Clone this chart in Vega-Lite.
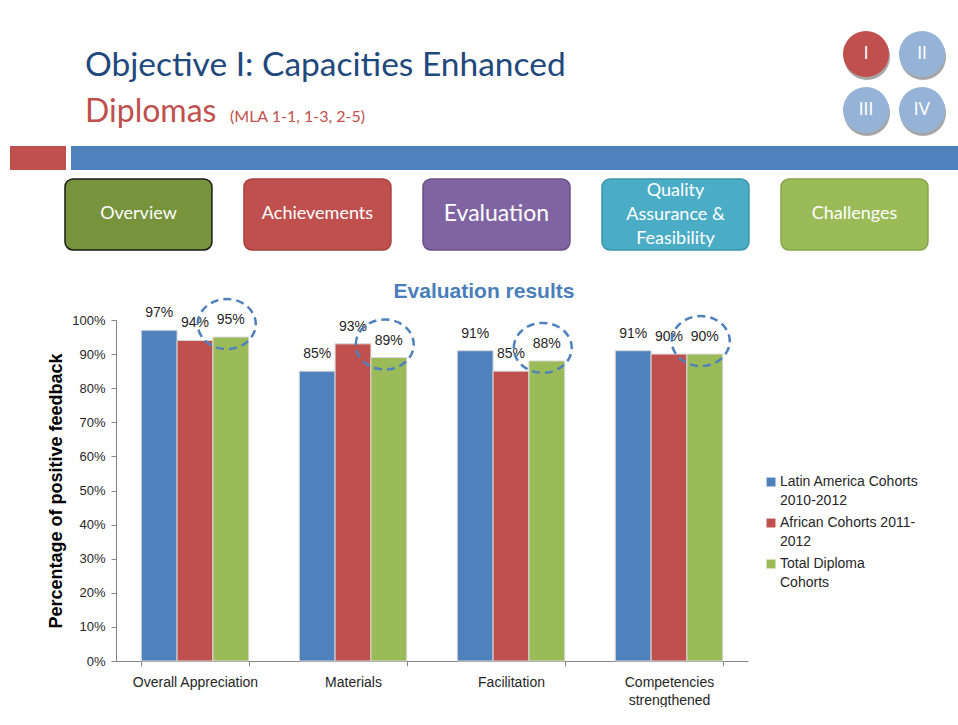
{
  "$schema": "https://vega.github.io/schema/vega-lite/v6.json",
  "background": "white",
  "padding": {"left": 10, "top": 26, "right": 0, "bottom": 0},
  "title": {"text": "Objective I: Capacities Enhanced", "anchor": "start", "dx": 75, "offset": -83, "baseline": "alphabetic", "fontSize": 33.5, "font": "Lato", "fontWeight": "normal", "color": "#1F497D"},
  "spacing": 8,
  "config": {"view": {"stroke": null}, "style": {"guide-label": {"lineHeight": 18.5}}},
  "resolve": {"scale": {"color": "independent", "stroke": "independent"}, "legend": {"color": "independent", "stroke": "independent"}},
  "vconcat": [
    {
      "spacing": 0,
      "hconcat": [
        {
          "width": 220, "height": 80,
          "data": {"values": []},
          "mark": "point",
          "encoding": {},
          "title": {"text": "Diplomas", "orient": "bottom", "anchor": "start", "dx": 75, "offset": 16, "baseline": "alphabetic", "fontSize": 32, "font": "Lato", "fontWeight": "normal", "color": "#C0504D"}
        },
        {
          "width": 608, "height": 80,
          "data": {"values": []},
          "mark": "point",
          "encoding": {},
          "title": {"text": "(MLA 1-1, 1-3, 2-5)", "orient": "bottom", "anchor": "start", "offset": 16, "baseline": "alphabetic", "fontSize": 16, "font": "Lato", "fontWeight": "normal", "color": "#C0504D"}
        },
        {
          "width": 112, "height": 112,
          "data": {"values": [
            {"label": "I", "col": "left", "row": "top"},
            {"label": "II", "col": "right", "row": "top"},
            {"label": "III", "col": "left", "row": "bottom"},
            {"label": "IV", "col": "right", "row": "bottom"}
          ]},
          "encoding": {
            "x": {"field": "col", "type": "nominal", "sort": ["left", "right"], "scale": {"type": "point", "padding": 0.5}, "axis": null},
            "y": {"field": "row", "type": "nominal", "sort": ["top", "bottom"], "scale": {"type": "point", "padding": 0.5}, "axis": null}
          },
          "layer": [
            {"mark": {"type": "point", "filled": true, "size": 2124, "color": "#808080", "opacity": 0.7, "xOffset": 1, "yOffset": 3}},
            {"mark": {"type": "point", "filled": true, "size": 2124, "opacity": 1},
             "encoding": {"color": {"field": "label", "type": "nominal", "scale": {"domain": ["I", "II", "III", "IV"], "range": ["#C0504D", "#95B3D7", "#95B3D7", "#95B3D7"]}, "legend": null}}},
            {"mark": {"type": "text", "color": "white", "fontSize": 17, "font": "Lato", "baseline": "middle"},
             "encoding": {"text": {"field": "label"}}}
          ]
        }
      ]
    },
    {
      "spacing": 5,
      "hconcat": [
        {"width": 56, "height": 24, "view": {"fill": "#C0504D", "stroke": null}, "data": {"values": []}, "mark": "point", "encoding": {}},
        {"width": 887, "height": 24, "view": {"fill": "#4F81BD", "stroke": null}, "data": {"values": []}, "mark": "point", "encoding": {}}
      ]
    },
    {
      "width": 938, "height": 94,
      "data": {"values": [
        {"label": "Overview"},
        {"label": "Achievements"},
        {"label": "Evaluation"},
        {"label": "Quality\nAssurance &\nFeasibility"},
        {"label": "Challenges"}
      ]},
      "encoding": {
        "x": {"field": "label", "type": "nominal", "sort": null, "scale": {"paddingInner": 0.179, "paddingOuter": 0.2095, "align": 0.733}, "axis": null},
        "y": {"datum": "buttons", "type": "nominal", "scale": {"paddingInner": 0, "paddingOuter": 0.162, "align": 0}, "axis": null}
      },
      "layer": [
        {"mark": {"type": "bar", "cornerRadius": 8, "strokeWidth": 1.5},
         "encoding": {
           "color": {"field": "label", "type": "nominal", "scale": {"domain": ["Overview", "Achievements", "Evaluation", "Quality\nAssurance &\nFeasibility", "Challenges"], "range": ["#77933C", "#C0504D", "#8064A2", "#4BACC6", "#9BBB59"]}, "legend": null},
           "stroke": {"field": "label", "type": "nominal", "scale": {"domain": ["Overview", "Achievements", "Evaluation", "Quality\nAssurance &\nFeasibility", "Challenges"], "range": ["#1a1a1a", "#a8403d", "#6a5089", "#3b95ad", "#86a548"]}, "legend": null}
         }},
        {"transform": [{"filter": "indexof(datum.label, 'Quality') < 0"}],
         "mark": {"type": "text", "color": "white", "font": "Lato", "baseline": "middle"},
         "encoding": {
           "text": {"field": "label"},
           "size": {"condition": {"test": "datum.label == 'Evaluation'", "value": 23}, "value": 18}
         }},
        {"transform": [{"filter": "indexof(datum.label, 'Quality') >= 0"}],
         "mark": {"type": "text", "color": "white", "font": "Lato", "fontSize": 18, "lineBreak": "\n", "lineHeight": 24, "baseline": "middle", "dy": -23},
         "encoding": {"text": {"field": "label"}}}
      ]
    },
    {
      "spacing": 10,
      "resolve": {"scale": {"color": "independent"}, "legend": {"color": "independent"}},
      "hconcat": [
        {"width": 27, "height": 1, "data": {"values": []}, "mark": "point", "encoding": {}},
        {
          "width": 632, "height": 341,
          "title": {"text": "Evaluation results", "frame": "group", "anchor": "middle", "dx": 52, "offset": -25, "baseline": "alphabetic", "fontSize": 21, "fontWeight": "bold", "font": "Liberation Sans", "color": "#4A7EBB"},
          "data": {"values": [
            {"category": "Overall Appreciation", "series": "Latin America Cohorts 2010-2012", "value": 0.97},
            {"category": "Overall Appreciation", "series": "African Cohorts 2011-2012", "value": 0.94},
            {"category": "Overall Appreciation", "series": "Total Diploma Cohorts", "value": 0.95},
            {"category": "Materials", "series": "Latin America Cohorts 2010-2012", "value": 0.85},
            {"category": "Materials", "series": "African Cohorts 2011-2012", "value": 0.93},
            {"category": "Materials", "series": "Total Diploma Cohorts", "value": 0.89},
            {"category": "Facilitation", "series": "Latin America Cohorts 2010-2012", "value": 0.91},
            {"category": "Facilitation", "series": "African Cohorts 2011-2012", "value": 0.85},
            {"category": "Facilitation", "series": "Total Diploma Cohorts", "value": 0.88},
            {"category": "Competencies strengthened", "series": "Latin America Cohorts 2010-2012", "value": 0.91},
            {"category": "Competencies strengthened", "series": "African Cohorts 2011-2012", "value": 0.90},
            {"category": "Competencies strengthened", "series": "Total Diploma Cohorts", "value": 0.90}
          ]},
          "encoding": {
            "x": {"field": "category", "type": "nominal", "sort": null,
                  "scale": {"paddingInner": 0.32, "paddingOuter": 0.16},
                  "axis": {"title": null, "labelAngle": 0, "tickBand": "extent", "labelFontSize": 14, "labelFont": "Liberation Sans", "labelColor": "#262626", "labelPadding": 9, "labelLineHeight": 18, "domainColor": "#868686", "tickColor": "#868686", "tickSize": 5,
                           "labelExpr": "datum.value == 'Competencies strengthened' ? ['Competencies', 'strengthened'] : datum.value"}},
            "xOffset": {"field": "series", "type": "nominal", "sort": null, "scale": {"domain": ["Latin America Cohorts 2010-2012", "African Cohorts 2011-2012", "Total Diploma Cohorts"]}},
            "y": {"field": "value", "type": "quantitative", "scale": {"domain": [0, 1]},
                  "axis": {"values": [0, 0.1, 0.2, 0.3, 0.4, 0.5, 0.6, 0.7, 0.8, 0.9, 1], "format": ".0%", "grid": false,
                           "title": "Percentage of positive feedback", "titleFontSize": 18, "titleFont": "Liberation Sans", "titleFontWeight": "bold", "titleColor": "black", "titlePadding": 6,
                           "labelFontSize": 13, "labelFont": "Liberation Sans", "labelColor": "#262626", "labelPadding": 6, "domainColor": "#868686", "tickColor": "#868686", "tickSize": 5}}
          },
          "layer": [
            {"mark": {"type": "bar", "stroke": "#d9d9d9", "strokeWidth": 1},
             "encoding": {
               "color": {"field": "series", "type": "nominal", "sort": null,
                         "scale": {"domain": ["Latin America Cohorts 2010-2012", "African Cohorts 2011-2012", "Total Diploma Cohorts"], "range": ["#4F81BD", "#C0504D", "#9BBB59"]},
                         "legend": {"title": null, "orient": "none", "legendX": 648, "legendY": 155, "symbolType": "square", "symbolSize": 80, "symbolStrokeWidth": 0,
                                    "labelFontSize": 14, "labelFont": "Liberation Sans", "labelColor": "#262626", "labelLimit": 250, "labelBaseline": "middle", "labelOffset": 2, "rowPadding": 8,
                                    "labelExpr": "datum.label == 'Latin America Cohorts 2010-2012' ? ['Latin America Cohorts', '2010-2012'] : datum.label == 'African Cohorts 2011-2012' ? ['African Cohorts 2011-', '2012'] : ['Total Diploma', 'Cohorts']"}
               }
             }},
            {"mark": {"type": "text", "dy": -17, "baseline": "middle", "fontSize": 14, "font": "Liberation Sans", "color": "#262626"},
             "encoding": {"text": {"field": "value", "type": "quantitative", "format": ".0%"}}},
            {"transform": [{"filter": "datum.series == 'Total Diploma Cohorts'"}],
             "mark": {"type": "point", "shape": "M -1.14 0 A 1 0.862 0 1 1 0.86 0 A 1 0.862 0 1 1 -1.14 0 Z", "size": 3364, "filled": false, "color": "#4F81BD", "stroke": "#4F81BD", "strokeWidth": 2.5, "strokeDash": [8, 5], "opacity": 1, "yOffset": -13}}
          ]
        }
      ]
    }
  ]
}
